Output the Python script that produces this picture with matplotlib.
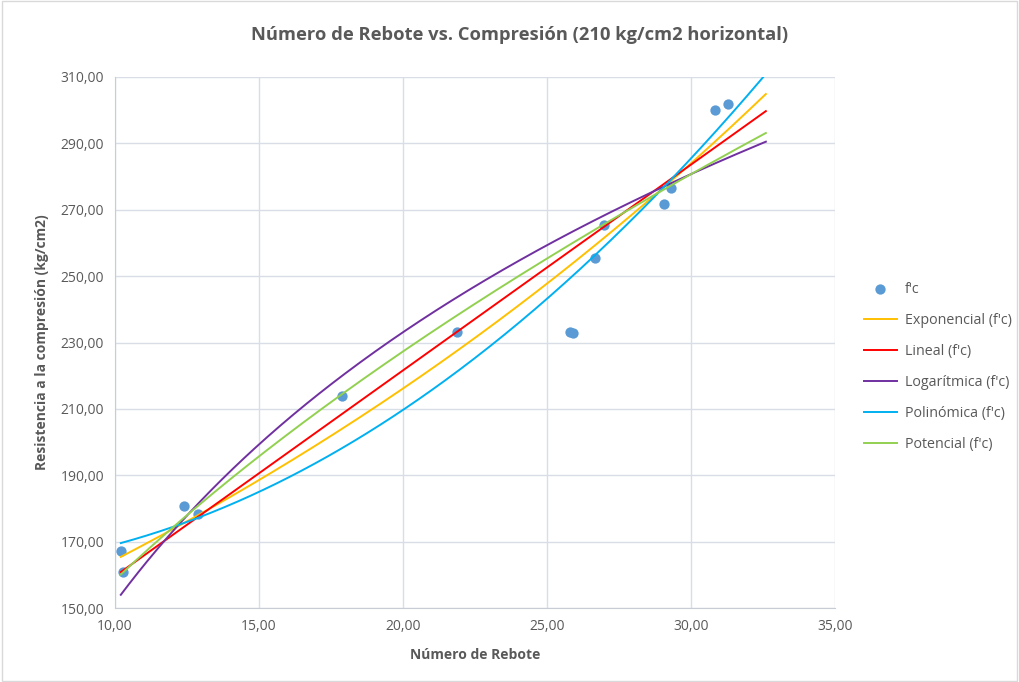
import numpy as np
import matplotlib
matplotlib.use("Agg")
import matplotlib.pyplot as plt

rebote = [10.2, 10.27, 12.4, 12.89, 17.87, 21.89, 25.8, 25.92, 26.67, 26.98, 29.06, 29.3, 30.85, 31.27]
fc = [167.2, 160.8, 180.8, 178.3, 214.0, 233.1, 233.1, 232.8, 255.4, 265.4, 271.7, 276.7, 300.0, 301.9]

# Trendline coefficients (Excel trendlines)
exp_coef = [125.2, 0.0273]          # y = a * exp(b x)
lin_coef = [6.20, 97.6]             # y = m x + c
log_coef = [117.5, -118.9]          # y = b ln(x) + a
poly_coef = [0.17583, -1.2153, 163.67]  # y = a x^2 + b x + c
pow_coef = [47.8, 0.5205]           # y = a x^b

xticks = [10, 15, 20, 25, 30, 35]
yticks = [150, 170, 190, 210, 230, 250, 270, 290, 310]
forward = 1.33

plt.rcParams['font.family'] = ['Open Sans', 'DejaVu Sans']
TXT = '#595959'

fig = plt.figure(figsize=(10.19, 6.82), dpi=100)
ax = fig.add_axes([0.1129, 0.1085, 0.7065, 0.7786])

x = np.array(rebote)
y = np.array(fc)
xs = np.linspace(x.min(), x.max() + forward, 300)

y_exp = exp_coef[0] * np.exp(exp_coef[1] * xs)
y_lin = np.polyval(lin_coef, xs)
y_log = log_coef[0] * np.log(xs) + log_coef[1]
y_poly = np.polyval(poly_coef, xs)
y_pow = pow_coef[0] * xs ** pow_coef[1]

ax.scatter(x, y, s=55, color='#5b9bd5', zorder=3, label="f'c", linewidths=0)
lw = 1.4
ax.plot(xs, y_exp, color='#ffc000', lw=lw, label='Exponencial (f\'c)', zorder=4)
ax.plot(xs, y_lin, color='#ff0000', lw=lw, label='Lineal (f\'c)', zorder=4)
ax.plot(xs, y_log, color='#7030a0', lw=lw, label='Logarítmica (f\'c)', zorder=4)
ax.plot(xs, y_poly, color='#00b0f0', lw=lw, label='Polinómica (f\'c)', zorder=4)
ax.plot(xs, y_pow, color='#92d050', lw=lw, label='Potencial (f\'c)', zorder=4)

ax.set_xlim(10, 35)
ax.set_ylim(150, 310)
ax.set_xticks(xticks)
ax.set_yticks(yticks)
ax.set_xticklabels([f"{v:.2f}".replace('.', ',') for v in xticks], color=TXT, fontsize=10)
ax.set_yticklabels([f"{v:.2f}".replace('.', ',') for v in yticks], color=TXT, fontsize=10)
ax.tick_params(length=0, pad=8)
ax.grid(True, color='#d9dde6', lw=1)
ax.set_axisbelow(True)
for s in ['top', 'right']:
    ax.spines[s].set_visible(False)
for s in ['left', 'bottom']:
    ax.spines[s].set_color('#c8ccd4')

ax.set_xlabel('Número de Rebote', color=TXT, fontsize=10, fontweight='bold', labelpad=10)
ax.set_ylabel('Resistencia a la compresión (kg/cm2)', color=TXT, fontsize=10, fontweight='bold', labelpad=8)
fig.text(0.51, 0.948, 'Número de Rebote vs. Compresión (210 kg/cm2 horizontal)', ha='center', va='center',
         color=TXT, fontsize=13.2, fontweight='bold')

handles, labels = ax.get_legend_handles_labels()
leg = fig.legend(handles, labels, loc='center left', bbox_to_anchor=(0.842, 0.462), frameon=False,
                 fontsize=10.3, labelcolor=TXT, handlelength=2.3, handletextpad=0.6,
                 labelspacing=1.12, borderaxespad=0)

fig.patches.append(plt.Rectangle((0.002, 0.002), 0.996, 0.996, transform=fig.transFigure,
                                 fill=False, edgecolor='#d9d9d9', lw=1))

fig.savefig('out.png', dpi=100)
